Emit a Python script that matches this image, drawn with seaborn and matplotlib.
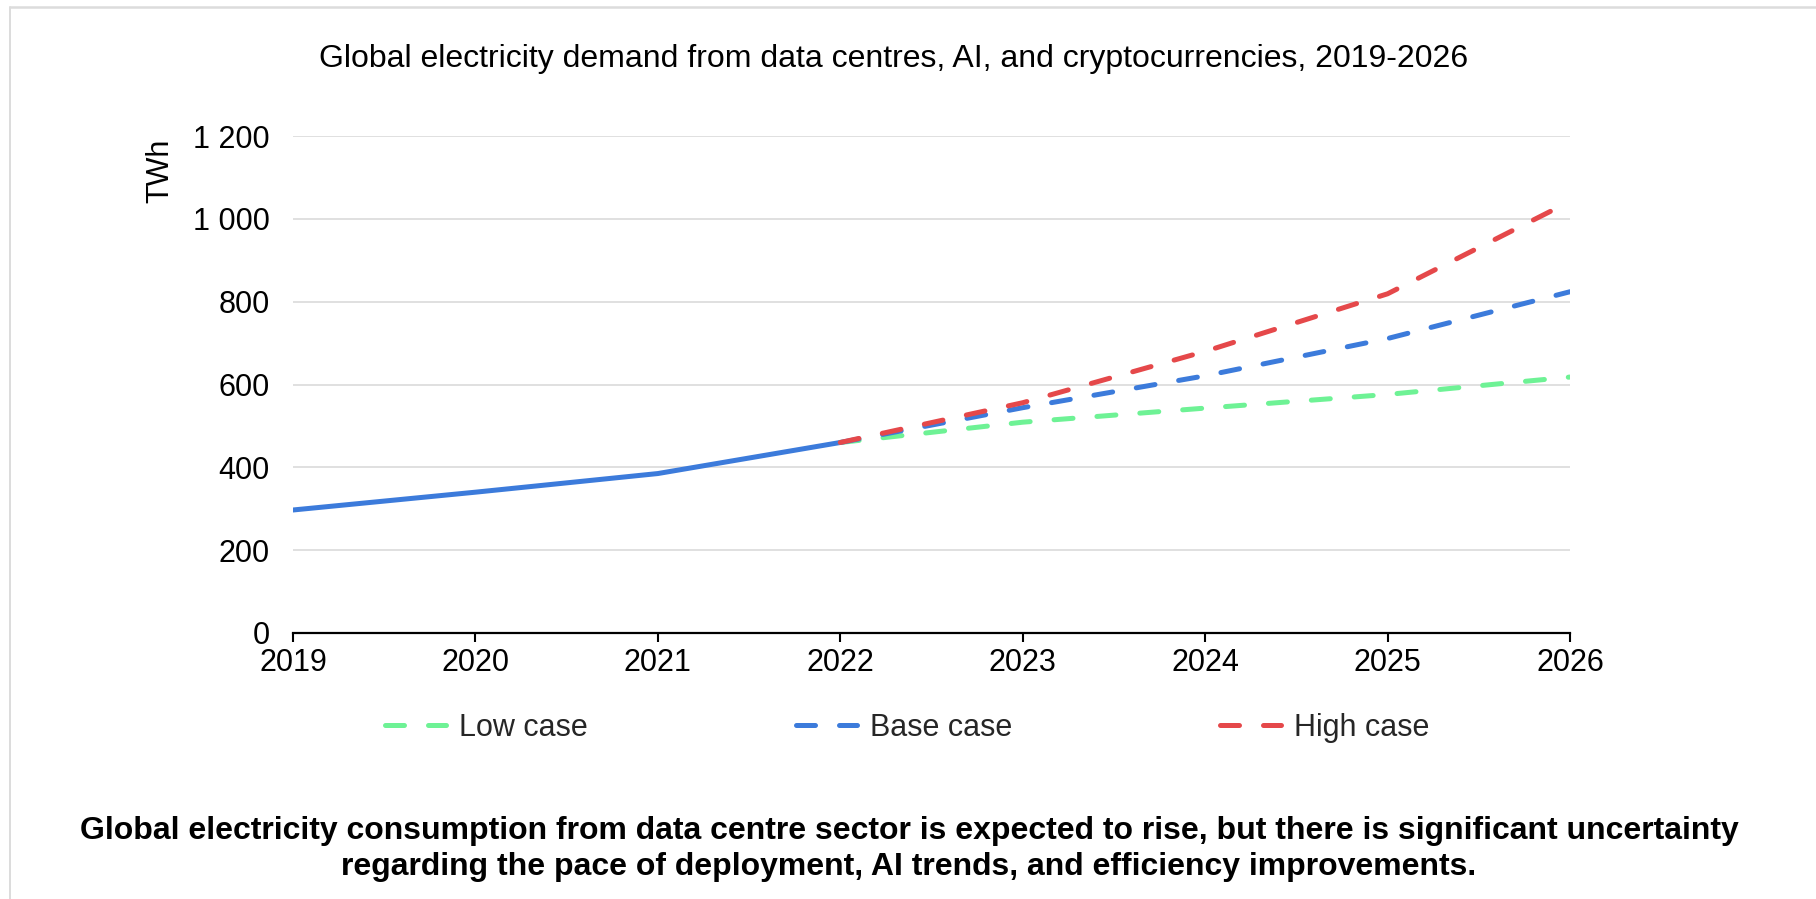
import matplotlib
matplotlib.use("Agg")
import matplotlib.pyplot as plt
import numpy as np
import pandas as pd
import seaborn as sns
from matplotlib.lines import Line2D

# data (TWh)
years_hist = [2019, 2020, 2021, 2022]
hist_twh = [297, 340, 385, 460]

years_proj = [2022, 2023, 2024, 2025, 2026]
low_twh = [460, 509, 543, 576, 618]
base_twh = [460, 544, 621, 711, 824]
high_twh = [460, 556, 680, 819, 1042]

x_ticks = [2019, 2020, 2021, 2022, 2023, 2024, 2025, 2026]
y_ticks = [0, 200, 400, 600, 800, 1000, 1200]

case_names = ["Low case", "Base case", "High case"]
title = "Global electricity demand from data centres, AI, and cryptocurrencies, 2019-2026"
caption_1 = ("Global electricity consumption from data centre sector is expected to rise, "
             "but there is significant uncertainty")
caption_2 = "regarding the pace of deployment, AI trends, and efficiency improvements."

frames = [pd.DataFrame({"year": years_hist, "TWh": hist_twh, "series": "History"})]
for name, vals in zip(case_names, [low_twh, base_twh, high_twh]):
    frames.append(pd.DataFrame({"year": years_proj, "TWh": vals, "series": name}))
df = pd.concat(frames, ignore_index=True)

palette = {"History": "#3C7BDB", "Low case": "#6EF295",
           "Base case": "#3C7BDB", "High case": "#E5484A"}
lw = 3.6
dash = (3.8, 4.8)
dash_map = {"History": "", "Low case": dash, "Base case": dash, "High case": dash}

sns.set_theme(style="white")
plt.rcParams["font.family"] = ["Liberation Sans", "DejaVu Sans"]

W, H = 1816, 899
fs = 22
fs_big = 23
fig = plt.figure(figsize=(W / 100, H / 100), dpi=100)
fig.patch.set_facecolor("white")
ax = fig.add_axes([293 / W, 266 / H, 1277 / W, 497 / H])

sns.lineplot(data=df, x="year", y="TWh", hue="series", style="series",
             hue_order=["History"] + case_names, style_order=["History"] + case_names,
             palette=palette, dashes=dash_map, linewidth=lw, legend=False,
             dash_capstyle="round", ax=ax)

ax.set_xlim(2019, 2026)
ax.set_ylim(0, 1200)
ax.set_xticks(x_ticks)
ax.set_xticklabels([str(y) for y in x_ticks])
ax.set_yticks(y_ticks)
ax.set_yticklabels([f"{v:,}".replace(",", " ") for v in y_ticks])
ax.yaxis.grid(True, color="#e0e0e0", linewidth=1.4)
ax.xaxis.grid(False)
ax.set_axisbelow(True)
for s in ["top", "right", "left"]:
    ax.spines[s].set_visible(False)
ax.spines["bottom"].set_color("black")
ax.spines["bottom"].set_linewidth(1.6)
ax.spines["bottom"].set_zorder(5)
ax.tick_params(axis="x", bottom=True, length=6.5, width=1.5, color="black",
               pad=4, labelsize=fs, labelcolor="black")
ax.tick_params(axis="y", left=False, length=0, pad=17, labelsize=fs, labelcolor="black")
ax.set_xlabel("")
ax.set_ylabel("TWh", fontsize=fs, color="black", loc="top")
ax.yaxis.set_label_coords(-0.092, 0.994)

handles = [Line2D([0], [0], color=palette[n], linewidth=lw, linestyle=(0, dash),
                  dash_capstyle="round") for n in case_names]
fig.legend(handles, case_names, loc="center", bbox_to_anchor=(907 / W, 1 - 728 / H),
           ncol=3, frameon=False, fontsize=fs, handlelength=2.0,
           handletextpad=0.42, columnspacing=6.8)

fig.text(894 / W, 1 - 59 / H, title, ha="center", va="center", fontsize=fs_big, color="black")
fig.text(909 / W, 1 - 831 / H, caption_1, ha="center", va="center", fontsize=fs_big,
         fontweight="bold", color="black")
fig.text(909 / W, 1 - 867 / H, caption_2, ha="center", va="center", fontsize=fs_big,
         fontweight="bold", color="black")

# thin grey frame on top and left, as in the source screenshot
fig.add_artist(Line2D([10 / W, 1], [1 - 7 / H, 1 - 7 / H], transform=fig.transFigure,
                      color="#dcdcdc", linewidth=1.8))
fig.add_artist(Line2D([10 / W, 10 / W], [0, 1 - 7 / H], transform=fig.transFigure,
                      color="#dcdcdc", linewidth=1.4))

fig.savefig("out.png", dpi=100, facecolor="white")
